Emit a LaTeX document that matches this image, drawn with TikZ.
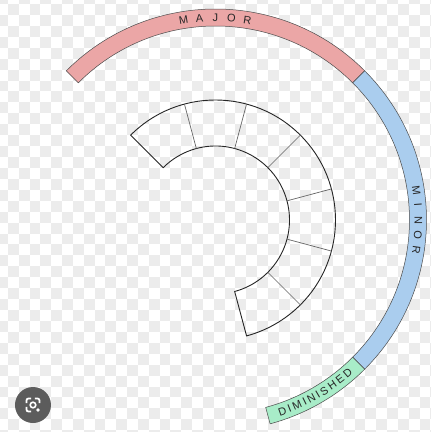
\documentclass[tikz,border=0pt]{standalone}
\usepackage{fontspec}
\setmainfont{Liberation Sans}

\definecolor{majorband}{RGB}{235,166,166}
\definecolor{minorband}{RGB}{170,205,238}
\definecolor{dimband}{RGB}{168,236,200}
\definecolor{checker}{RGB}{236,236,236}
\definecolor{lensgray}{RGB}{92,92,92}

\begin{document}
\begin{tikzpicture}[>=stealth,
    every node/.style={font=\fontsize{11}{13}\selectfont, inner sep=0pt},
    ring/.style={draw=black!85, line width=0.9pt},
    divider/.style={draw=black!60, line width=0.7pt},
    band/.style={draw=black!70, line width=0.5pt},
    letter/.style={text=black!85, inner sep=0pt}]

    % --- 0. 背景 (透過チェック模様) ---
    \useasboundingbox (-215.5pt,-212pt) rectangle (215.5pt,220pt);
    \clip (-215.5pt,-212pt) rectangle (215.5pt,220pt);
    \fill[white] (-215.5pt,-212pt) rectangle (215.5pt,220pt);
    \foreach \i in {0,...,40} {
      \foreach \j in {-1,...,40} {
        \ifodd\numexpr\i+\j+2\relax
          \fill[checker] ({(8+10.83*(\i-1)-215.5)*1pt}, {(216-10.93*\j)*1pt})
            rectangle ++(10.83pt,-10.93pt);
        \fi
      }
    }

    % --- 1. 外側の帯: major / minor / diminished ---
    \filldraw[band, fill=majorband] (135:194pt) -- (135:211pt)
      arc[start angle=135, end angle=45, radius=211pt] -- (45:194pt)
      arc[start angle=45, end angle=135, radius=194pt] -- cycle;
    \filldraw[band, fill=minorband] (45:194pt) -- (45:211pt)
      arc[start angle=45, end angle=-45, radius=211pt] -- (-45:194pt)
      arc[start angle=-45, end angle=45, radius=194pt] -- cycle;
    \filldraw[band, fill=dimband] (-45:194pt) -- (-45:211pt)
      arc[start angle=-45, end angle=-75, radius=211pt] -- (-75:194pt)
      arc[start angle=-75, end angle=-45, radius=194pt] -- cycle;

    % --- 2. 帯の文字 ---
    \foreach \ch [count=\k] in {M,A,J,O,R}
      \node[letter, rotate={4.53*(3-\k)}] (major-\k) at ({90+4.53*(3-\k)}:202.5pt) {\ch};
    \foreach \ch [count=\k] in {M,I,N,O,R}
      \node[letter, rotate={4.23*(3-\k)-90}] (minor-\k) at ({4.23*(3-\k)}:203pt) {\ch};
    \foreach \ch/\a [count=\k] in {D/-70.71, I/-68.56, M/-66.24, I/-63.92, N/-61.77,
                                    I/-59.62, S/-57.55, H/-54.80, E/-52.04, D/-49.29}
      \node[letter, rotate={\a+90}] (dim-\k) at (\a:202.5pt) {\ch};

    % --- 3. 内側のリング (7 区画) ---
    \draw[ring] (135:74pt) -- (135:120pt)
      arc[start angle=135, end angle=-75, radius=120pt] -- (-75:74pt)
      arc[start angle=-75, end angle=135, radius=74pt] -- cycle;
    \foreach \a in {105,75,45,15,-15,-45}
      \draw[divider] (\a:74pt) -- (\a:120pt);

    % --- 4. 左下のレンズアイコン ---
    \begin{scope}[shift={(-182.5pt,-185pt)}]
      \fill[lensgray] (0,0) circle (18pt);
      \draw[white, line width=1.8pt, rounded corners=2pt]
        (-6.5pt,1.8pt) -- (-6.5pt,6.5pt) -- (-1.8pt,6.5pt);
      \draw[white, line width=1.8pt, rounded corners=2pt]
        (1.8pt,6.5pt) -- (6.5pt,6.5pt) -- (6.5pt,1.8pt);
      \draw[white, line width=1.8pt, rounded corners=2pt]
        (-6.5pt,-1.8pt) -- (-6.5pt,-6.5pt) -- (-1.8pt,-6.5pt);
      \draw[white, line width=1.6pt] (0,0) circle (2.8pt);
      \fill[white] (5pt,-5pt) circle (1.8pt);
    \end{scope}

\end{tikzpicture}
\end{document}
